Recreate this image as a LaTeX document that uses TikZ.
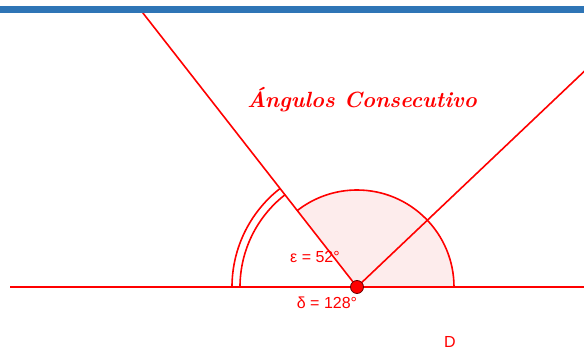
\documentclass[tikz,border=0pt]{standalone}
\usepackage{fontspec}
\newfontfamily\lab{Liberation Sans}
\usetikzlibrary{calc}
\definecolor{barblue}{HTML}{2E75B6}
\definecolor{sectorfill}{RGB}{253,236,236}
\begin{document}
\begin{tikzpicture}[x=1pt,y=1pt,
  rline/.style={red, line width=1.6pt},
  lbl/.style={text=red, font=\lab\fontsize{16}{18}\selectfont, inner sep=0pt},
  ttl/.style={text=red, font=\fontsize{22}{24}\selectfont\bfseries\itshape, inner sep=0pt},
  vpoint/.style={circle, fill=red, draw=black!60!red, line width=0.8pt, inner sep=0pt, minimum size=13pt}]
\useasboundingbox (0,0) rectangle (584,350);
\fill[white] (0,0) rectangle (584,350);
\coordinate (V) at (357,63);
\coordinate (Lend) at (10,63);
\coordinate (Rend) at (584,63);
\coordinate (A) at ($(V)+(128:352)$);
\coordinate (B) at ($(V)+(43.5:314)$);
% sector delta
\fill[sectorfill] (V) -- ($(V)+(0:97)$) arc[start angle=0,end angle=128,radius=97] -- cycle;
\draw[rline] ($(V)+(0:97)$) arc[start angle=0,end angle=128,radius=97];
% double arc epsilon
\draw[rline] ($(V)+(128:117)$) arc[start angle=128,end angle=180,radius=117];
\draw[rline] ($(V)+(128:125)$) arc[start angle=128,end angle=180,radius=125];
% lines
\draw[rline] (Lend) -- (Rend);
\draw[rline] (V) -- (A);
\draw[rline] (V) -- (B);
% top bar
\fill[barblue] (0,336.7) rectangle (584,343.5);
% point
\node[vpoint] (P) at (V) {};
% labels
\node[lbl] (eps) at (315,93) {ε = 52°};
\node[lbl] (del) at (327,47) {δ = 128°};
\node[lbl] (D) at (450,8) {D};
\node[ttl] (title) at (362,250) {Ángulos Consecutivo};
\end{tikzpicture}
\end{document}
